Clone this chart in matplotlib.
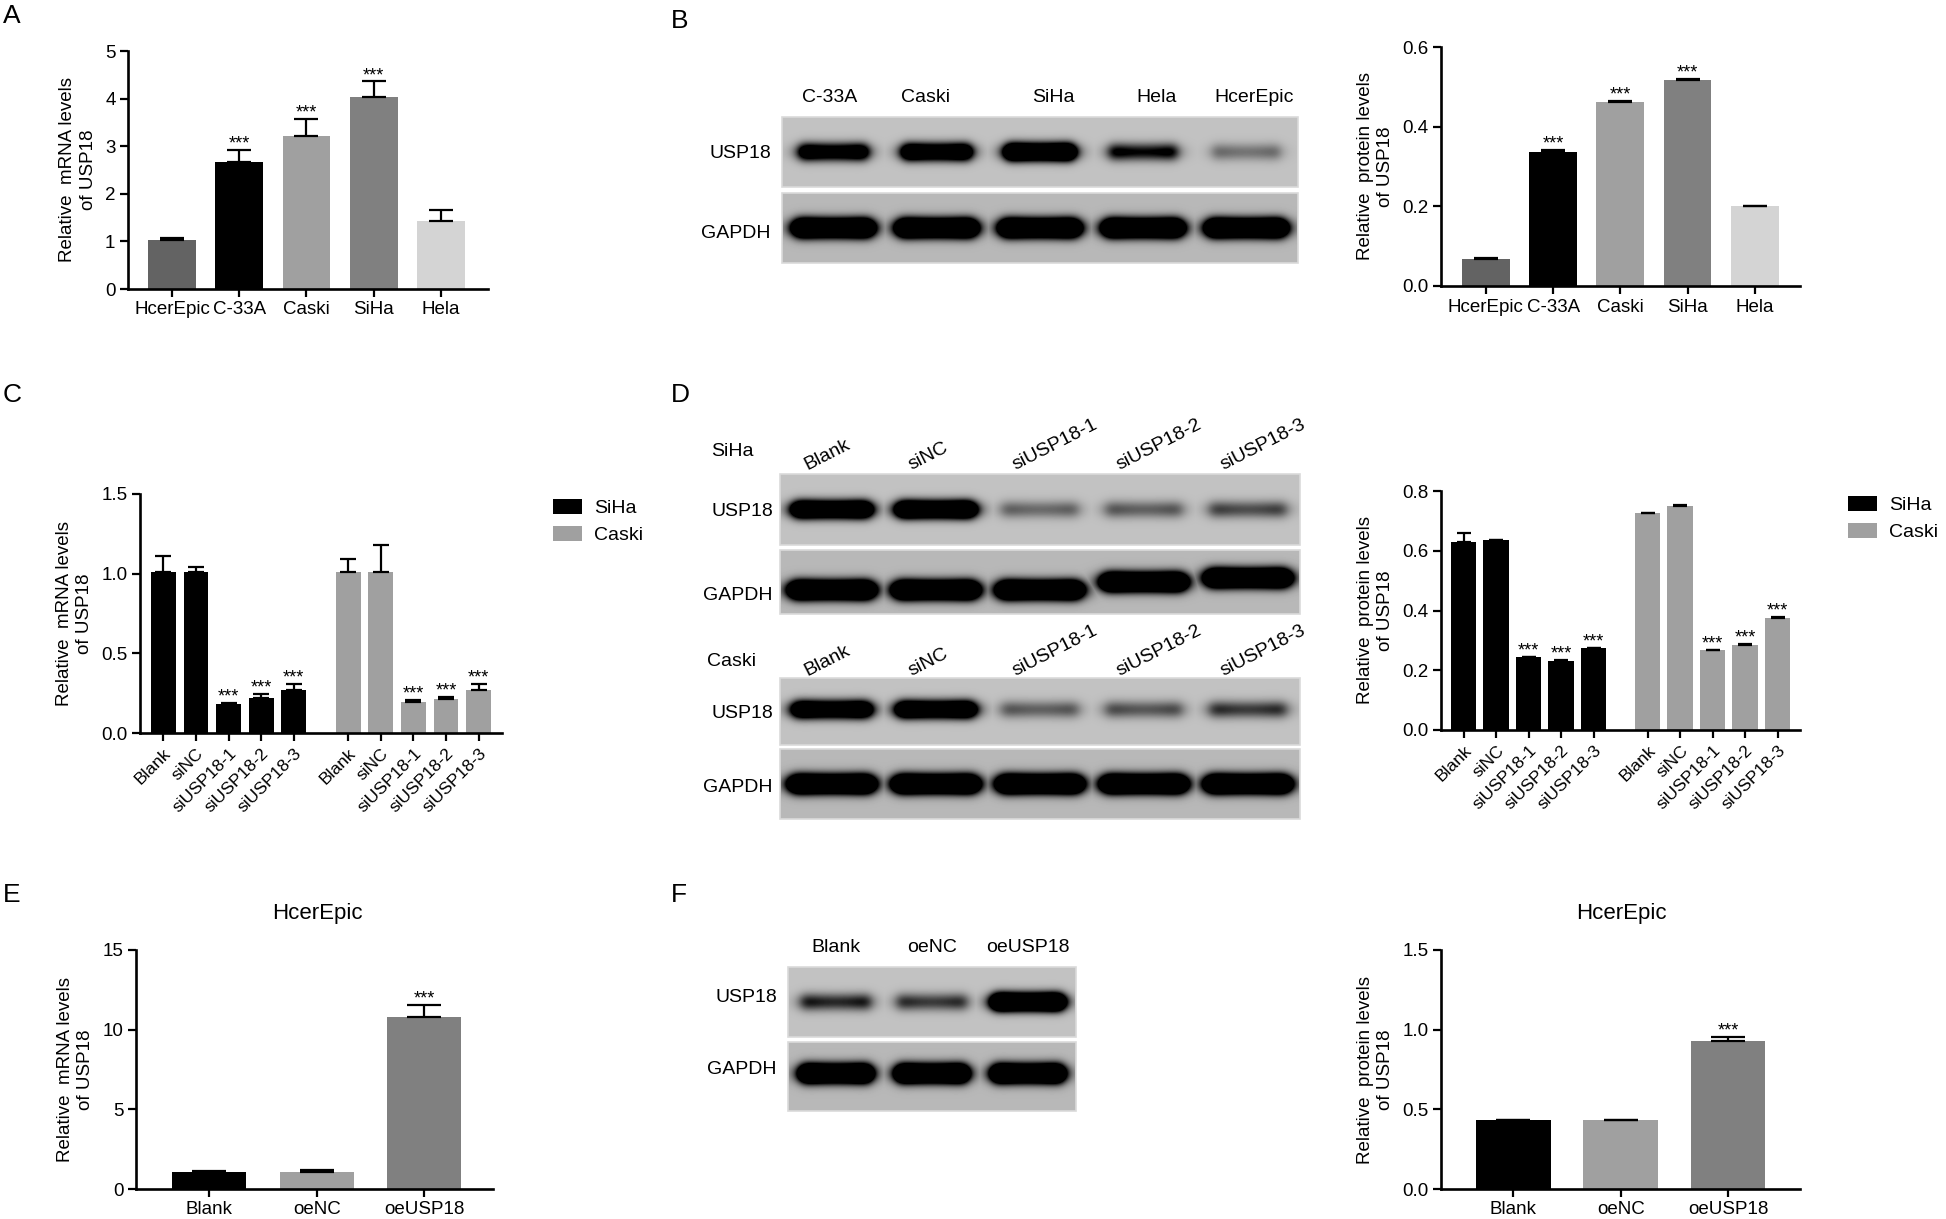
import numpy as np
import matplotlib.pyplot as plt
from matplotlib.patches import Rectangle, Patch

plt.rcParams['font.family'] = ['Liberation Sans', 'DejaVu Sans']

# ---- data ----
cells = ['HcerEpic', 'C-33A', 'Caski', 'SiHa', 'Hela']
cell_colors = ['#636363', '#000000', '#a0a0a0', '#808080', '#d4d4d4']
a_mrna = [1.02, 2.66, 3.21, 4.04, 1.42]
a_err = [0.06, 0.26, 0.37, 0.32, 0.24]
a_sig = ['', '***', '***', '***', '']

b_protein = [0.069, 0.337, 0.463, 0.518, 0.200]
b_err = [0.001, 0.004, 0.002, 0.002, 0.001]
b_sig = ['', '***', '***', '***', '']

si_groups = ['Blank', 'siNC', 'siUSP18-1', 'siUSP18-2', 'siUSP18-3']
c_siha = [1.01, 1.01, 0.184, 0.218, 0.27]
c_siha_err = [0.10, 0.03, 0.006, 0.025, 0.038]
c_caski = [1.01, 1.01, 0.197, 0.214, 0.27]
c_caski_err = [0.08, 0.17, 0.01, 0.014, 0.038]
c_sig = ['', '', '***', '***', '***']

d_siha = [0.628, 0.636, 0.244, 0.230, 0.275]
d_siha_err = [0.033, 0.001, 0.001, 0.004, 0.001]
d_caski = [0.727, 0.751, 0.267, 0.286, 0.376]
d_caski_err = [0.001, 0.001, 0.002, 0.002, 0.002]
d_sig = ['', '', '***', '***', '***']

oe_groups = ['Blank', 'oeNC', 'oeUSP18']
oe_colors = ['#000000', '#a0a0a0', '#808080']
e_mrna = [1.09, 1.07, 10.8]
e_err = [0.03, 0.10, 0.75]
f_protein = [0.432, 0.432, 0.932]
f_err = [0.001, 0.002, 0.023]
oe_sig = ['', '', '***']

# western blot lanes and band strengths (relative darkness)
b_lanes = ['C-33A', 'Caski', 'SiHa', 'Hela', 'HcerEpic']
b_label_dx = [-4, -11, 13, 13, 8]
b_usp18_band = [1.6, 2.0, 2.6, 1.0, 0.4]
b_gapdh_band = [3.0, 3.0, 3.0, 3.0, 3.0]
d_siha_usp18_band = [2.5, 2.6, 0.45, 0.5, 0.6]
d_siha_gapdh_band = [3.0, 3.0, 3.0, 3.0, 3.0]
d_caski_usp18_band = [2.2, 2.3, 0.5, 0.55, 0.7]
d_caski_gapdh_band = [3.0, 3.0, 3.0, 3.0, 3.0]
f_usp18_band = [0.8, 0.7, 3.0]
f_gapdh_band = [3.0, 3.0, 3.0]

W, H = 1946, 1219
fig = plt.figure(figsize=(W / 100, H / 100), dpi=100)

# overlay in pixel coordinates for letters, blots and blot labels
ov = fig.add_axes([0, 0, 1, 1])
ov.axis('off')


def px_axes(left, top, right, bottom):
    return fig.add_axes([left / W, 1 - bottom / H, (right - left) / W, (bottom - top) / H])


def bar_chart(ax, pos, vals, errs, colors, width, cap, sig, ymax, yticks, fmt,
              ylabel, xlabels, xlim, rot=False):
    ax.bar(pos, vals, width, color=colors, linewidth=0, zorder=2)
    ax.errorbar(pos, vals, yerr=[np.zeros(len(vals)), errs], fmt='none',
                ecolor='black', elinewidth=1.6, capsize=cap, capthick=1.6, zorder=3)
    for x, v, e, s in zip(pos, vals, errs, sig):
        if s:
            ax.annotate(s, (x, v + e), xytext=(0, 1), textcoords='offset points',
                        ha='center', va='baseline', fontsize=13)
    ax.set_xlim(*xlim)
    ax.set_ylim(0, ymax)
    ax.set_yticks(yticks)
    ax.set_yticklabels([fmt.format(t) for t in yticks])
    ax.set_xticks(pos)
    if rot:
        ax.set_xticklabels(xlabels, rotation=45, ha='right', rotation_mode='anchor')
    else:
        ax.set_xticklabels(xlabels)
    ax.set_ylabel(ylabel, fontsize=13.5, linespacing=1.25, labelpad=6)
    for s in ['top', 'right']:
        ax.spines[s].set_visible(False)
    for s in ['left', 'bottom']:
        ax.spines[s].set_linewidth(1.9)
    ax.tick_params(direction='out', length=6, width=1.6, pad=3, labelsize=13.5)
    if rot:
        ax.tick_params(axis='x', labelsize=12.5)


def blot_strip(x0, x1, y0, y1, strengths, sigma, base, shifts=None, frac=0.7):
    nx, ny = int(round(x1 - x0)), int(round(y1 - y0))
    xs = np.arange(nx) + 0.5
    ys = np.arange(ny) + 0.5
    lane = nx / len(strengths)
    dark = np.zeros((ny, nx))
    for i, s in enumerate(strengths):
        u = (xs - (i + 0.5) * lane) / (frac * lane / 2)
        prof_x = (1 + 0.3 * u ** 2) / (1 + u ** 10)
        yc = ny / 2 + (shifts[i] if shifts else 0)
        prof_y = np.exp(-0.5 * ((ys - yc) / sigma) ** 2)
        dark = np.maximum(dark, s * np.outer(prof_y, prof_x))
    img = base * (1 - np.clip(dark, 0, 1))
    ov.imshow(img, cmap='gray', vmin=0, vmax=1, extent=(x0, x1, y1, y0),
              aspect='auto', interpolation='bilinear', zorder=1)
    ov.add_patch(Rectangle((x0, y0), x1 - x0, y1 - y0, fill=False,
                           ec='#dadada', lw=1.2, zorder=2))
    return [x0 + (i + 0.5) * lane for i in range(len(strengths))]


def legend(ax, x, y):
    handles = [Patch(facecolor='black', edgecolor='none', label='SiHa'),
               Patch(facecolor='#a0a0a0', edgecolor='none', label='Caski')]
    ax.legend(handles=handles, loc='upper left', bbox_to_anchor=(x / W, 1 - y / H),
              bbox_transform=fig.transFigure, frameon=False, borderpad=0,
              borderaxespad=0, handlelength=1.48, handleheight=0.8,
              handletextpad=0.62, labelspacing=0.45, fontsize=14)


# ---- A ----
ax = px_axes(128, 51, 488, 289)
bar_chart(ax, np.arange(5), a_mrna, a_err, cell_colors, 0.71, 8.3, a_sig, 5,
          [0, 1, 2, 3, 4, 5], '{:g}', 'Relative  mRNA levels\nof USP18', cells,
          (-0.654, 4.70))

# ---- B ----
ax = px_axes(1441, 47, 1800, 286)
bar_chart(ax, np.arange(5), b_protein, b_err, cell_colors, 0.71, 8.3, b_sig, 0.6,
          [0, 0.2, 0.4, 0.6], '{:.1f}', 'Relative  protein levels\nof USP18', cells,
          (-0.667, 4.673))

lanes = blot_strip(782, 1298, 117, 187, b_usp18_band, 6, 0.76, frac=0.66)
blot_strip(782, 1298, 193, 263, b_gapdh_band, 6.5, 0.72, frac=0.75)
for cx, dx, lab in zip(lanes, b_label_dx, b_lanes):
    ov.text(cx + dx, 98, lab, ha='center', va='center', fontsize=14)
ov.text(771, 153, 'USP18', ha='right', va='center', fontsize=14)
ov.text(771, 233, 'GAPDH', ha='right', va='center', fontsize=14)

# ---- C ----
grp = np.r_[np.arange(5), np.arange(5) + 5.67]
ax = px_axes(140, 494, 502, 733)
bar_chart(ax, grp, c_siha + c_caski, c_siha_err + c_caski_err,
          ['#000000'] * 5 + ['#a0a0a0'] * 5, 0.76, 6, c_sig + c_sig, 1.5,
          [0, 0.5, 1.0, 1.5], '{:.1f}', 'Relative  mRNA levels\nof USP18',
          si_groups + si_groups, (-0.72, 10.39), rot=True)
legend(ax, 553, 499)

# ---- D ----
grp = np.r_[np.arange(5), np.arange(5) + 5.66]
ax = px_axes(1441, 491, 1800, 730)
bar_chart(ax, grp, d_siha + d_caski, d_siha_err + d_caski_err,
          ['#000000'] * 5 + ['#a0a0a0'] * 5, 0.785, 5, d_sig + d_sig, 0.8,
          [0, 0.2, 0.4, 0.6, 0.8], '{:.1f}', 'Relative  protein levels\nof USP18',
          si_groups + si_groups, (-0.695, 10.346), rot=True)
legend(ax, 1848, 496)

lanes = blot_strip(780, 1300, 474, 545, d_siha_usp18_band, 6, 0.76, frac=0.74)
blot_strip(780, 1300, 550, 614, d_siha_gapdh_band, 6.5, 0.72,
           shifts=[8, 8, 8, 0, -4], frac=0.79)
for cx, lab in zip(lanes, si_groups):
    ov.text(cx - 25, 470, lab, rotation=27, ha='left', va='baseline',
            rotation_mode='anchor', fontsize=14)
lanes = blot_strip(780, 1300, 678, 745, d_caski_usp18_band, 6, 0.76,
                   shifts=[-2] * 5, frac=0.74)
blot_strip(780, 1300, 749, 819, d_caski_gapdh_band, 6.5, 0.72, frac=0.79)
for cx, lab in zip(lanes, si_groups):
    ov.text(cx - 25, 676, lab, rotation=27, ha='left', va='baseline',
            rotation_mode='anchor', fontsize=14)
ov.text(711, 452, 'SiHa', ha='left', va='center', fontsize=14)
ov.text(707, 662, 'Caski', ha='left', va='center', fontsize=14)
for y, lab in [(512, 'USP18'), (595, 'GAPDH'), (713, 'USP18'), (787, 'GAPDH')]:
    ov.text(773, y, lab, ha='right', va='center', fontsize=14)

# ---- E ----
ax = px_axes(136, 950, 493, 1189)
bar_chart(ax, np.arange(3), e_mrna, e_err, oe_colors, 0.69, 12, oe_sig, 15,
          [0, 5, 10, 15], '{:g}', 'Relative  mRNA levels\nof USP18', oe_groups,
          (-0.68, 2.64))
ov.text(317, 913, 'HcerEpic', ha='center', va='center', fontsize=16)

# ---- F ----
ax = px_axes(1441, 950, 1800, 1189)
bar_chart(ax, np.arange(3), f_protein, f_err, oe_colors, 0.694, 12, oe_sig, 1.5,
          [0, 0.5, 1.0, 1.5], '{:.1f}', 'Relative  protein levels\nof USP18', oe_groups,
          (-0.673, 2.669))
ov.text(1621, 913, 'HcerEpic', ha='center', va='center', fontsize=16)

lanes = blot_strip(788, 1076, 967, 1037, f_usp18_band, 6, 0.76, frac=0.73)
blot_strip(788, 1076, 1042, 1111, f_gapdh_band, 6.5, 0.72, shifts=[-3] * 3, frac=0.73)
for cx, lab in zip(lanes, oe_groups):
    ov.text(cx, 947, lab, ha='center', va='center', fontsize=14)
ov.text(777, 997, 'USP18', ha='right', va='center', fontsize=14)
ov.text(777, 1070, 'GAPDH', ha='right', va='center', fontsize=14)

# panel letters
for x, y, letter in [(3, 4, 'A'), (671, 9, 'B'), (3, 383, 'C'), (671, 383, 'D'),
                     (3, 883, 'E'), (671, 883, 'F')]:
    ov.text(x, y, letter, ha='left', va='top', fontsize=19)

ov.set_xlim(0, W)
ov.set_ylim(H, 0)

fig.savefig('out.png', dpi=100)
